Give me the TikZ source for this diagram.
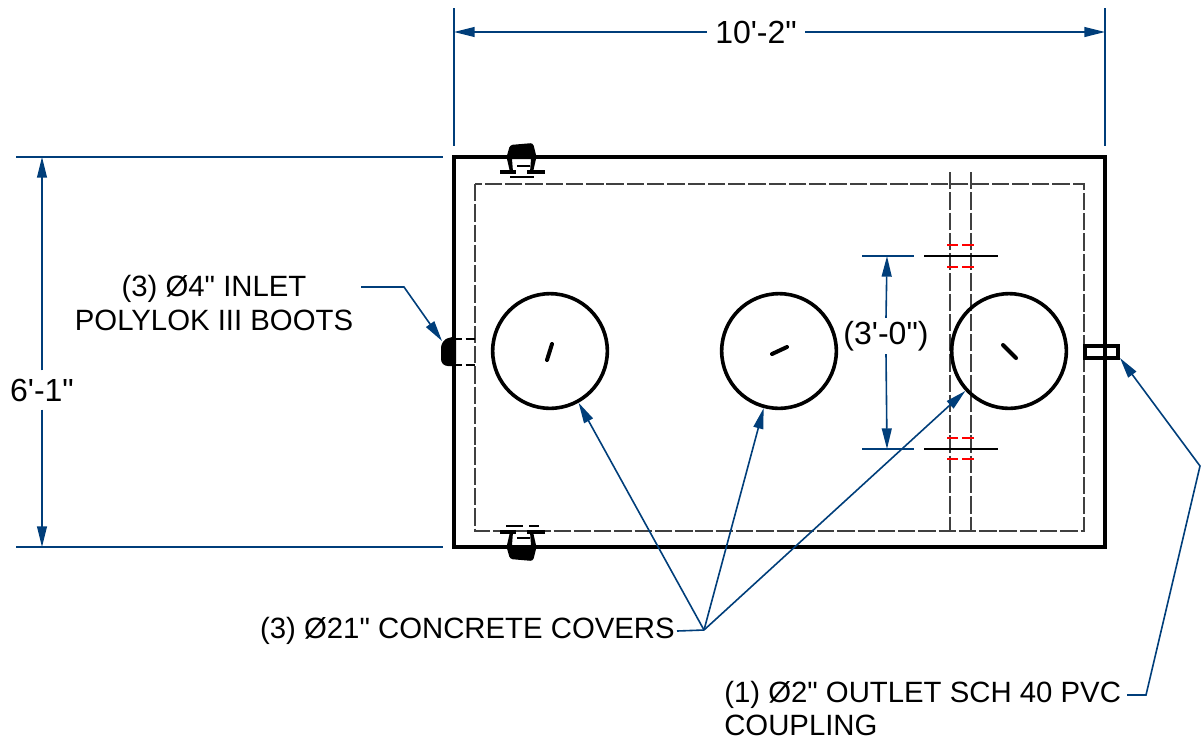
\documentclass[tikz,border=0pt]{standalone}
\usepackage{fontspec}
\newfontfamily\labelfont{Liberation Sans}
\usetikzlibrary{arrows.meta}
\definecolor{leadblue}{RGB}{0,62,122}
\tikzset{
  leadline/.style={draw=leadblue,line width=1.2pt,-{Triangle[length=15.5pt,width=7.4pt]}},
  extline/.style={draw=leadblue,line width=1.2pt},
  label/.style={inner sep=0pt,font=\labelfont\fontsize{22}{25}\selectfont},
  dimlabel/.style={inner sep=0pt,font=\labelfont\fontsize{24}{25}\selectfont},
  cover/.style={circle,draw,line width=2.7pt,inner sep=0pt,minimum size=86pt},
  hidden/.style={draw=black!75,line width=1.1pt,dash pattern=on 13pt off 2.2pt},
  reddash/.style={draw=red,line width=0.9pt},
  thick tick/.style={line width=3pt,line cap=round}
}
\begin{document}
\begin{tikzpicture}[x=0.75pt,y=0.75pt,yscale=-1,xscale=1]
    \useasboundingbox (0,0) rectangle (1201,740);

    %Shape: Tank outline
    \draw [line width=2.6pt] (454,157) rectangle (1105,547);
    %Shape: Inner wall
    \draw [hidden] (475,184) rectangle (1084,531);
    %Pipe through wall
    \draw [hidden] (950,172) -- (950,532);
    \draw [hidden] (971,172) -- (971,532);

    %Shape: Covers
    \node [cover] (cvrA) at (550,351) {};
    \node [cover] (cvrB) at (779,351) {};
    \node [cover] (cvrC) at (1009,351) {};
    \draw [thick tick] (547,360) -- (552,344);
    \draw [thick tick] (772,354) -- (787,347);
    \draw [thick tick] (1003,345) -- (1016,358);

    %Top boot
    \fill [rounded corners=2pt] (506,159) -- (510,145) -- (533,143) -- (537,159) -- cycle;
    \fill (507,159) -- (512,159) -- (513,172) -- (510,172) -- cycle;
    \fill (536,159) -- (531,159) -- (530,172) -- (533,172) -- cycle;
    \draw [line width=2pt] (517,166) -- (530,166);
    \draw [line width=3.6pt] (500,172) -- (516,172) (527,172) -- (545,172);
    \draw [line width=1.2pt] (510,177) -- (534,177);
    %Bottom boot
    \fill [rounded corners=2pt] (506,545) -- (510,559) -- (533,561) -- (537,545) -- cycle;
    \fill (507,545) -- (512,545) -- (513,532) -- (510,532) -- cycle;
    \fill (536,545) -- (531,545) -- (530,532) -- (533,532) -- cycle;
    \draw [line width=2pt] (517,538) -- (530,538);
    \draw [line width=3.6pt] (500,532) -- (516,532) (527,532) -- (545,532);
    \draw [line width=2.2pt] (506,526) -- (523,526) (529,526) -- (539,526);
    %Left boot
    \fill [rounded corners=2pt] (456,336) -- (445,339) -- (441,345) -- (441,362) -- (445,366) -- (456,366) -- cycle;
    \draw [line width=1.7pt,dash pattern=on 5pt off 3pt on 10pt off 2pt] (455,339) -- (475,339);
    \draw [line width=1.7pt,dash pattern=on 5pt off 3pt on 10pt off 2pt] (455,365) -- (475,365);
    %Right coupling
    \draw [line width=2.6pt] (1085,346) rectangle (1118,358);

    %Red dashes
    \foreach \yy in {245,267,438,459} {
      \draw [reddash] (947,\yy) -- (958,\yy);
      \draw [reddash] (962,\yy) -- (974,\yy);
    }
    %Black centre lines
    \draw [line width=1.1pt] (924,256) -- (998,256);
    \draw [line width=1.1pt] (924,449) -- (998,449);

    % Text Node
    \node [dimlabel] (wdt) at (756,32) {10'-2"};
    \node [dimlabel] (hgt) at (42,390) {6'-1"};
    \node [dimlabel] (gap) at (886,336) {(3'-0")};
    \node [label,align=center] (inlet) at (214,303) {(3) Ø4" INLET\\POLYLOK III BOOTS};
    \node [label,anchor=east] (covers) at (675,631) {(3) Ø21" CONCRETE COVERS};
    \node [label,align=left,anchor=north west] (outlet) at (724,681) {(1) Ø2" OUTLET SCH 40 PVC\\COUPLING};

    %Coordinates
    \coordinate (wdtL) at (454,32);
    \coordinate (wdtR) at (1105,32);
    \coordinate (hgtT) at (42,157);
    \coordinate (hgtB) at (42,547);
    \coordinate (gapT) at (887,256);
    \coordinate (gapB) at (887,449);
    \coordinate (inletA) at (361,287);
    \coordinate (inletB) at (404,287);
    \coordinate (inletC) at (442,341);
    \coordinate (fork) at (704,630);
    \coordinate (outA) at (1127,695);
    \coordinate (outB) at (1146,695);
    \coordinate (outC) at (1200,466);
    \coordinate (outD) at (1120,358);

    %Straight Lines
    \draw [extline] (454,8) -- (454,146);
    \draw [extline] (1105,8) -- (1105,146);
    \draw [extline] (16,157) -- (443,157);
    \draw [extline] (16,547) -- (443,547);
    \draw [extline] (862,256) -- (914,256);
    \draw [extline] (862,449) -- (914,449);

    %Dimension lines
    \draw [leadline] (wdt.west) ++(-8,0) -- (wdtL);
    \draw [leadline] (wdt.east) ++(8,0) -- (wdtR);
    \draw [leadline] (hgt.north) ++(0,-8) -- (hgtT);
    \draw [leadline] (hgt.south) ++(0,8) -- (hgtB);
    \draw [leadline] (gap.north) ++(0,-3) -- (gapT);
    \draw [leadline] (gap.south) ++(0,3) -- (gapB);

    %Leaders
    \draw [leadline] (inletA) -- (inletB) -- (inletC);
    \draw [extline] (covers.east) ++(2,0) -- (fork);
    \draw [leadline] (fork) -- (cvrA);
    \draw [leadline] (fork) -- (cvrB);
    \draw [leadline] (fork) -- (cvrC);
    \draw [leadline] (outA) -- (outB) -- (outC) -- (outD);
\end{tikzpicture}
\end{document}
